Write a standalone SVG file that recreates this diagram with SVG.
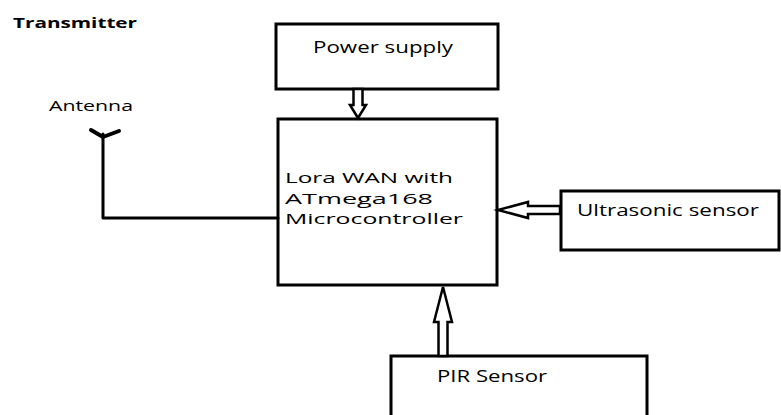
<svg xmlns="http://www.w3.org/2000/svg" width="781" height="415" viewBox="0 0 781 415">
<style>
.box{fill:#fff;stroke:#000;stroke-width:3}
.lbl{font-family:"Open Sans","Liberation Sans",sans-serif;fill:#000}
.arr{fill:#fff;stroke:#000;stroke-width:2.5;stroke-linejoin:miter}
.wire{fill:none;stroke:#000;stroke-width:3;stroke-linecap:round;stroke-linejoin:round}
</style>
<rect width="781" height="415" fill="#fff"/>
<text class="lbl" x="13" y="28" font-size="15" font-weight="bold" textLength="124" lengthAdjust="spacingAndGlyphs">Transmitter</text>
<g id="power">
<rect class="box" x="276" y="24" width="222" height="65"/>
<text class="lbl" x="313" y="53" font-size="15.5" textLength="140" lengthAdjust="spacingAndGlyphs">Power supply</text>
</g>
<g id="mcu">
<rect class="box" x="278" y="119" width="219" height="166"/>
<text class="lbl" x="285" y="183" font-size="14.8" textLength="168" lengthAdjust="spacingAndGlyphs">Lora WAN with</text>
<text class="lbl" x="285" y="203.5" font-size="14.8" textLength="148" lengthAdjust="spacingAndGlyphs">ATmega168</text>
<text class="lbl" x="285" y="224" font-size="14.8" textLength="178" lengthAdjust="spacingAndGlyphs">Microcontroller</text>
</g>
<g id="ultrasonic">
<rect class="box" x="561" y="191" width="218" height="59"/>
<text class="lbl" x="577" y="216" font-size="15.5" textLength="182" lengthAdjust="spacingAndGlyphs">Ultrasonic sensor</text>
</g>
<g id="pir">
<rect class="box" x="391" y="356" width="256" height="70"/>
<text class="lbl" x="437" y="382" font-size="16" textLength="110" lengthAdjust="spacingAndGlyphs">PIR Sensor</text>
</g>
<g id="antenna">
<text class="lbl" x="49" y="111" font-size="14" textLength="84" lengthAdjust="spacingAndGlyphs">Antenna</text>
<path class="wire" style="stroke-width:4" d="M91,130 L103,137 L119,131"/>
</g>
<g id="connectors">
<path class="wire" d="M103,134 L103,218 L278,218"/>
<polygon class="arr" points="353.5,89 362.5,89 362.5,105 366,105 358,118 350,105 353.5,105"/>
<polygon class="arr" points="560,206 528,206 528,202 498,210 528,218 528,214 560,214"/>
<polygon class="arr" points="438.5,356 438.5,322 434,322 443,287 452,322 447.5,322 447.5,356"/>
</g>
</svg>
